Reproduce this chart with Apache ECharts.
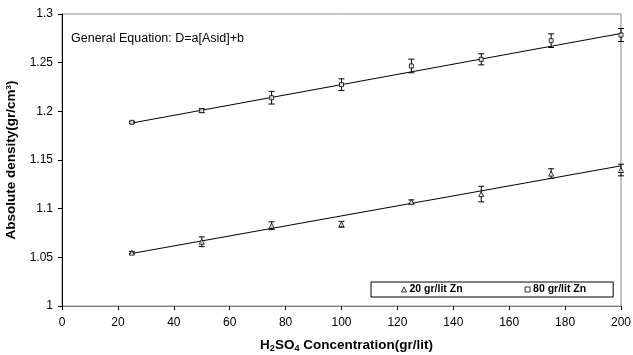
<!DOCTYPE html>
<html>
<head>
<meta charset="utf-8">
<script src="https://cdn.jsdelivr.net/npm/echarts@6/dist/echarts.min.js"></script>
<style>
  html, body { margin: 0; padding: 0; background: #fff; }
  #chart { width: 633px; height: 355px; }
</style>
</head>
<body>
<div id="chart"></div>
<script>
// H2SO4 concentration (gr/lit)
var conc = [25, 50, 75, 100, 125, 150, 175, 200];
// measured densities and error bar half-widths
var zn20 = [1.0548, 1.066, 1.0825, 1.084, 1.107, 1.115, 1.136, 1.1397];
var zn20Err = [0.001, 0.005, 0.004, 0.003, 0.002, 0.008, 0.005, 0.006];
var zn80 = [1.1887, 1.2007, 1.214, 1.2274, 1.2466, 1.2534, 1.2726, 1.2784];
var zn80Err = [0.001, 0.002, 0.0065, 0.006, 0.007, 0.0057, 0.007, 0.0067];
// linear fit end points
var fit20 = [[25, 1.054], [200, 1.144]];
var fit80 = [[25, 1.188], [200, 1.280]];

var font = 'Liberation Sans, Arial, sans-serif';

function pts(vals) { return conc.map(function (c, i) { return [c, vals[i]]; }); }
function errData(vals, errs) {
  return conc.map(function (c, i) { return [c, vals[i] - errs[i], vals[i] + errs[i]]; });
}

// vertical error bar with caps
function renderErr(params, api) {
  var lo = api.coord([api.value(0), api.value(1)]);
  var hi = api.coord([api.value(0), api.value(2)]);
  var w = 3;
  var st = { stroke: '#000', lineWidth: 1 };
  return {
    type: 'group',
    children: [
      { type: 'line', shape: { x1: lo[0], y1: lo[1], x2: hi[0], y2: hi[1] }, style: st },
      { type: 'line', shape: { x1: lo[0] - w, y1: lo[1], x2: lo[0] + w, y2: lo[1] }, style: st },
      { type: 'line', shape: { x1: hi[0] - w, y1: hi[1], x2: hi[0] + w, y2: hi[1] }, style: st }
    ]
  };
}

var hollow = { color: '#fff', borderColor: '#000', borderWidth: 1 };

var chart = echarts.init(document.getElementById('chart'));
chart.setOption({
  animation: false,
  backgroundColor: '#fff',
  grid: {
    left: 62, right: 12, top: 14, bottom: 49,
    outerBoundsMode: 'none',
    show: true, borderColor: '#8c8c8c', borderWidth: 1
  },
  xAxis: {
    type: 'value', min: 0, max: 200, interval: 20,
    axisLine: { lineStyle: { color: '#808080' } },
    axisTick: { show: true, length: 4, lineStyle: { color: '#000' } },
    axisLabel: { color: '#000', fontFamily: font, fontSize: 12, margin: 11 },
    splitLine: { show: false },
    name: '{b|H}{s|2}{b|SO}{s|4}{b| Concentration(gr/lit)}',
    nameLocation: 'middle', nameGap: 31,
    nameTextStyle: {
      padding: [0, 0, 0, 10],
      rich: {
        b: { fontFamily: font, fontSize: 13.5, fontWeight: 'bold', color: '#000' },
        s: { fontFamily: font, fontSize: 9, fontWeight: 'bold', color: '#000', verticalAlign: 'bottom', padding: [7, 0, 0, 0] }
      }
    }
  },
  yAxis: {
    type: 'value', min: 1, max: 1.3, interval: 0.05,
    axisLine: { show: true, lineStyle: { color: '#000' } },
    axisTick: { show: true, length: 4, lineStyle: { color: '#000' } },
    axisLabel: { color: '#000', fontFamily: font, fontSize: 12, margin: 9 },
    splitLine: { show: false },
    name: '{b|Absolute density(gr/cm}{s|3}{b|)}',
    nameLocation: 'middle', nameGap: 35,
    nameTextStyle: {
      rich: {
        b: { fontFamily: font, fontSize: 13.5, fontWeight: 'bold', color: '#000' },
        s: { fontFamily: font, fontSize: 8, fontWeight: 'bold', color: '#000', verticalAlign: 'top', padding: [0, 0, 6, 0] }
      }
    }
  },
  legend: {
    left: 371, top: 282,
    orient: 'horizontal',
    data: [
      { name: '20 gr/lit Zn', icon: 'triangle', itemStyle: hollow },
      { name: '80 gr/lit Zn', icon: 'rect', itemStyle: hollow }
    ],
    itemWidth: 5, itemHeight: 5, itemGap: 62,
    padding: [2, 27, 2, 30],
    borderColor: '#000', borderWidth: 1,
    backgroundColor: '#fff',
    textStyle: { fontFamily: font, fontSize: 10.5, fontWeight: 'bold', color: '#000', padding: [0, 0, 0, -2] }
  },
  graphic: [
    {
      type: 'text', left: 71, top: 32,
      style: { text: 'General Equation: D=a[Asid]+b', font: '12.5px ' + font, fill: '#000' }
    }
  ],
  series: [
    {
      name: 'fit20', type: 'line', data: fit20, symbol: 'none',
      lineStyle: { color: '#000', width: 1 }, z: 1, silent: true
    },
    {
      name: 'fit80', type: 'line', data: fit80, symbol: 'none',
      lineStyle: { color: '#000', width: 1 }, z: 1, silent: true
    },
    {
      name: 'err20', type: 'custom', data: errData(zn20, zn20Err),
      renderItem: renderErr, encode: { x: 0, y: [1, 2] }, z: 2
    },
    {
      name: 'err80', type: 'custom', data: errData(zn80, zn80Err),
      renderItem: renderErr, encode: { x: 0, y: [1, 2] }, z: 2
    },
    {
      name: '20 gr/lit Zn', type: 'scatter', data: pts(zn20),
      symbol: 'triangle', symbolSize: 5, itemStyle: hollow, z: 3
    },
    {
      name: '80 gr/lit Zn', type: 'scatter', data: pts(zn80),
      symbol: 'rect', symbolSize: 4, itemStyle: hollow, z: 3
    }
  ]
});
</script>
</body>
</html>
